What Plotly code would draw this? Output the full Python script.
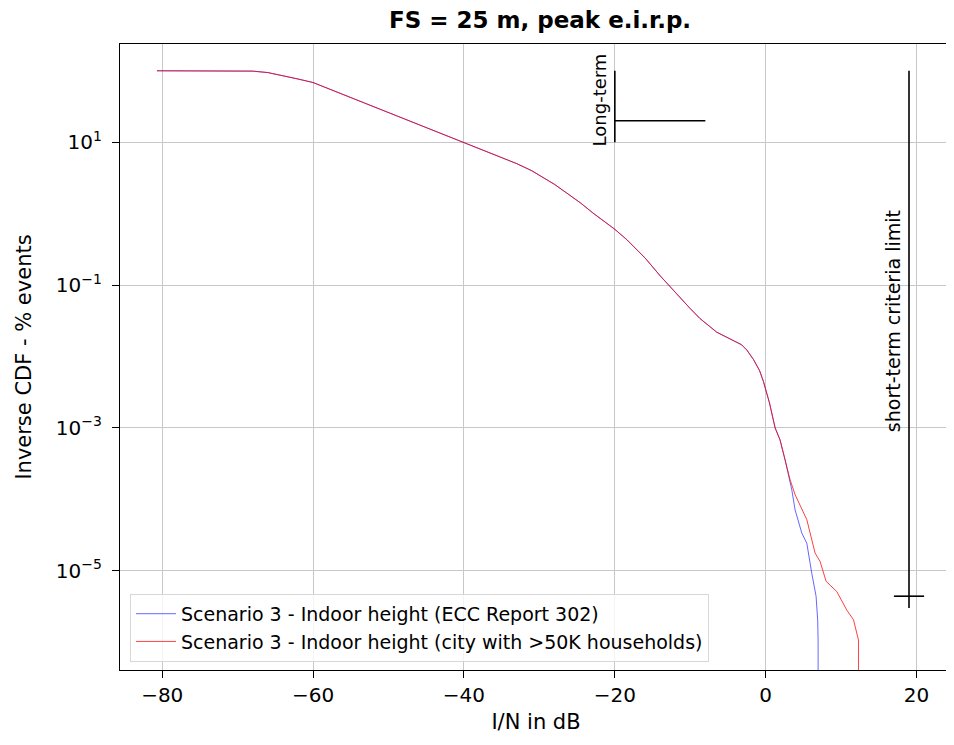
import numpy as np
import plotly.graph_objects as go

# shared part of both curves (I/N in dB, % events)
common_x = [-80.7, -70, -68, -66, -64, -62, -60, -57, -54, -50, -45, -40, -37, -35, -33,
            -31, -29.5, -28, -26.4, -24.5, -22.9, -21.5, -20, -18.4, -16, -14, -12.9,
            -11.5, -10, -8.7, -7.5, -6.5, -5, -4, -3.2, -2.5, -1.6, -0.8, -0.3, 0.5,
            1.25, 1.9, 2.57]
common_y = [100, 100, 98.9, 94.4, 86.1, 76.7, 68.4, 51.3, 38.5, 26.0, 16.0, 10, 7.50, 6.10,
            5.01, 3.98, 3.24, 2.57, 1.95, 1.40, 1.02, 0.785, 0.603, 0.431, 0.240, 0.135,
            0.100, 0.0692, 0.0468, 0.0339, 0.0263, 0.0219, 0.0182, 0.0162, 0.0146, 0.0123,
            0.0090, 0.0063, 0.00447, 0.00224, 0.0010, 6.8e-4, 3.57e-4]

# tails of the two scenarios
ecc_x = [3.46, 3.9, 4.79, 5.45, 6.11, 6.68, 6.9, 6.95, 6.95]
ecc_y = [1.36e-4, 7.1e-5, 3.36e-5, 2.43e-5, 9.2e-6, 4.4e-6, 2.0e-6, 1.0e-6, 1e-9]
city_x = [3.24, 3.9, 5.45, 6.55, 7.21, 8.01, 9.43, 10.76, 11.64, 12.3, 12.3]
city_y = [1.87e-4, 1.16e-4, 5.2e-5, 1.77e-5, 1.35e-5, 7.1e-6, 5.1e-6, 2.8e-6, 2.06e-6, 1.07e-6, 1e-9]

# criteria markers
long_v_x = [-20, -20]
long_v_y = [10, 100]
long_h_x = [-20, -8]
long_h_y = [20, 20]
short_v_x = [19, 19]
short_v_y = [100, 3e-6]
short_h_x = [17, 21]
short_h_y = [4.4e-6, 4.4e-6]

ytick_vals = [10, 0.1, 1e-3, 1e-5]
ytick_text = ["10<sup>1</sup>", "10<sup>−1</sup>", "10<sup>−3</sup>", "10<sup>−5</sup>"]
xtick_vals = [-80, -60, -40, -20, 0, 20]
xtick_text = ["−80", "−60", "−40", "−20", "0", "20"]

font = "DejaVu Sans, Liberation Sans, sans-serif"

fig = go.Figure()

fig.add_trace(go.Scatter(x=common_x + ecc_x, y=common_y + ecc_y, mode="lines",
                         line=dict(color="rgba(0,0,255,0.6)", width=1),
                         name="Scenario 3 - Indoor height (ECC Report 302)"))
fig.add_trace(go.Scatter(x=common_x + city_x, y=common_y + city_y, mode="lines",
                         line=dict(color="rgba(255,0,0,0.75)", width=1),
                         name="Scenario 3 - Indoor height (city with >50K households)"))

for xs, ys in [(long_v_x, long_v_y), (long_h_x, long_h_y),
               (short_v_x, short_v_y), (short_h_x, short_h_y)]:
    fig.add_trace(go.Scatter(x=xs, y=ys, mode="lines", showlegend=False,
                             line=dict(color="black", width=1.6), hoverinfo="skip"))

fig.add_annotation(x=-22.0, y=np.log10(39.4), text="Long-term", textangle=-90,
                   showarrow=False, xanchor="center", yanchor="middle",
                   font=dict(size=18, color="black", family=font))
fig.add_annotation(x=16.8, y=-1.5, text="short-term criteria limit", textangle=-90,
                   showarrow=False, xanchor="center", yanchor="middle",
                   font=dict(size=19, color="black", family=font))

# page body has an 8px margin, so the figure is sized to fit inside it
fig.update_layout(
    width=946, height=729,
    margin=dict(l=112, r=2, t=36, b=67),
    plot_bgcolor="white", paper_bgcolor="white",
    font=dict(family=font, size=20, color="black"),
    title=dict(text="<b>FS = 25 m, peak e.i.r.p.</b>", x=0.5624, xanchor="center",
               y=0.9835, yanchor="middle", font=dict(size=23)),
    legend=dict(x=0.012, y=0.013, xanchor="left", yanchor="bottom",
                bgcolor="rgba(255,255,255,0.8)", bordercolor="#d8d8d8", borderwidth=1,
                font=dict(size=19), itemwidth=40),
    xaxis=dict(range=[-85.6, 24.7], tickvals=xtick_vals, ticktext=xtick_text,
               showgrid=True, gridcolor="#c8c8c8", gridwidth=1,
               showline=True, linecolor="black", linewidth=1.3, mirror=True,
               ticks="outside", ticklen=7, tickcolor="black", zeroline=False,
               title=dict(text="I/N in dB", standoff=8, font=dict(size=21)),
               tickfont=dict(size=20)),
    yaxis=dict(type="log", range=[-6.39, 2.375], tickvals=ytick_vals, ticktext=ytick_text,
               showgrid=True, gridcolor="#c8c8c8", gridwidth=1,
               showline=True, linecolor="black", linewidth=1.3, mirror=True,
               ticks="outside", ticklen=7, tickcolor="black", zeroline=False,
               ticklabelstandoff=6,
               title=dict(text="Inverse CDF - % events", standoff=18, font=dict(size=21)),
               tickfont=dict(size=20)),
)

fig.write_html("out.html")
